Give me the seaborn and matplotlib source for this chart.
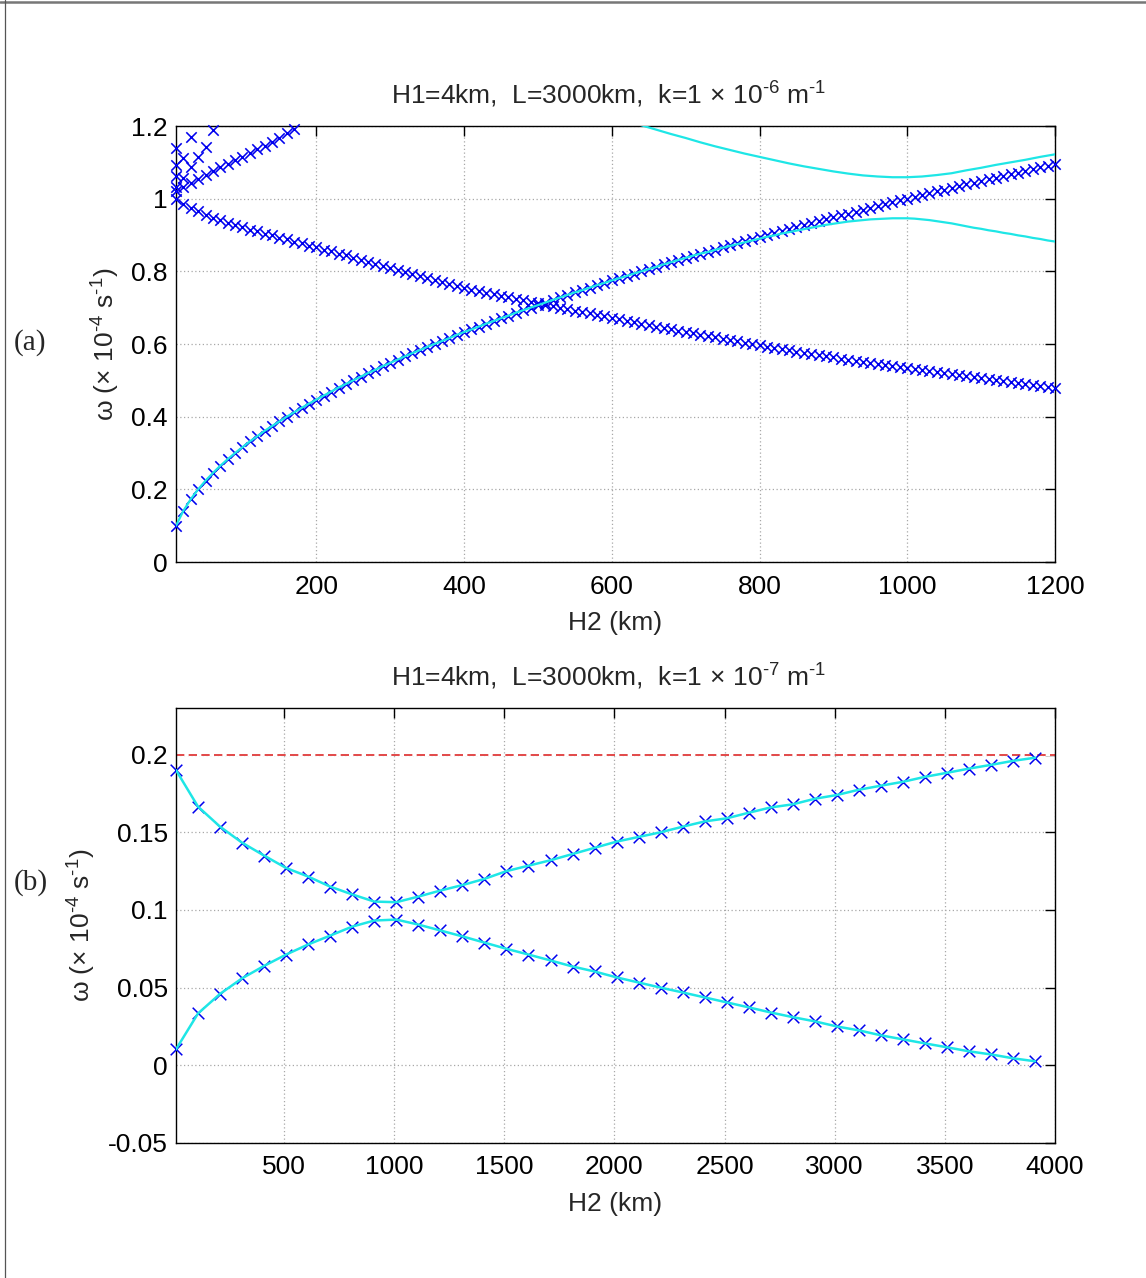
import matplotlib
matplotlib.use("Agg")
import matplotlib.pyplot as plt
import seaborn as sns
from matplotlib.lines import Line2D
from matplotlib.ticker import FuncFormatter

# ---------------------------------------------------------------- data
# (a) k = 1e-6 m^-1, H2 sampled every 10 km
h2_top = list(range(10, 1201, 10))

rising_w = [
    0.100, 0.141, 0.173, 0.200, 0.224, 0.245, 0.265, 0.283, 0.300, 0.316,
    0.332, 0.346, 0.361, 0.374, 0.387, 0.400, 0.412, 0.424, 0.436, 0.447,
    0.458, 0.469, 0.480, 0.490, 0.500, 0.510, 0.520, 0.529, 0.539, 0.548,
    0.557, 0.566, 0.575, 0.583, 0.592, 0.600, 0.608, 0.616, 0.625, 0.633,
    0.640, 0.648, 0.656, 0.663, 0.671, 0.678, 0.686, 0.693, 0.700, 0.707,
    0.714, 0.721, 0.728, 0.735, 0.742, 0.748, 0.755, 0.762, 0.768, 0.775,
    0.781, 0.787, 0.794, 0.800, 0.806, 0.812, 0.819, 0.825, 0.831, 0.837,
    0.843, 0.849, 0.854, 0.860, 0.866, 0.872, 0.878, 0.883, 0.889, 0.894,
    0.900, 0.906, 0.911, 0.917, 0.922, 0.927, 0.933, 0.938, 0.943, 0.949,
    0.954, 0.959, 0.964, 0.970, 0.975, 0.980, 0.985, 0.990, 0.995, 1.000,
    1.005, 1.010, 1.015, 1.020, 1.025, 1.030, 1.034, 1.039, 1.044, 1.049,
    1.054, 1.058, 1.063, 1.068, 1.072, 1.077, 1.082, 1.086, 1.091, 1.095,
]

falling_w = [
    1.000, 0.986, 0.975, 0.965, 0.956, 0.948, 0.941, 0.934, 0.927, 0.921,
    0.915, 0.910, 0.904, 0.899, 0.893, 0.888, 0.882, 0.877, 0.871, 0.866,
    0.860, 0.855, 0.849, 0.844, 0.838, 0.832, 0.827, 0.821, 0.816, 0.810,
    0.804, 0.799, 0.793, 0.788, 0.782, 0.777, 0.771, 0.766, 0.760, 0.755,
    0.750, 0.746, 0.741, 0.737, 0.732, 0.728, 0.724, 0.720, 0.716, 0.712,
    0.708, 0.704, 0.700, 0.696, 0.692, 0.688, 0.684, 0.680, 0.676, 0.672,
    0.668, 0.664, 0.660, 0.656, 0.652, 0.648, 0.644, 0.640, 0.637, 0.633,
    0.629, 0.625, 0.622, 0.618, 0.614, 0.611, 0.607, 0.603, 0.600, 0.596,
    0.593, 0.589, 0.586, 0.583, 0.579, 0.576, 0.573, 0.569, 0.566, 0.563,
    0.560, 0.557, 0.554, 0.551, 0.548, 0.546, 0.543, 0.540, 0.537, 0.534,
    0.531, 0.528, 0.526, 0.523, 0.520, 0.517, 0.514, 0.512, 0.509, 0.506,
    0.503, 0.500, 0.498, 0.495, 0.492, 0.489, 0.486, 0.484, 0.481, 0.478,
]

upper_h2 = list(range(10, 171, 10))
upper_w = [1.022, 1.033, 1.044, 1.055, 1.066, 1.076, 1.086, 1.096, 1.106,
           1.116, 1.126, 1.136, 1.146, 1.157, 1.168, 1.180, 1.193]

# higher modes near the shallow end
modes_h2 = [10, 10, 10, 10, 20, 20, 30, 30, 40, 50, 60]
modes_w = [1.033, 1.062, 1.093, 1.139, 1.056, 1.113, 1.086, 1.171, 1.116,
           1.143, 1.189]

# continuous solutions (a)
lo_tail_h2 = list(range(730, 1201, 10))
lo_tail_w = [
    0.853, 0.859, 0.865, 0.870, 0.875, 0.880, 0.885, 0.890, 0.895, 0.899,
    0.904, 0.908, 0.912, 0.916, 0.920, 0.924, 0.928, 0.931, 0.934, 0.937,
    0.939, 0.941, 0.943, 0.944, 0.945, 0.946, 0.946, 0.946, 0.945, 0.943,
    0.941, 0.938, 0.935, 0.932, 0.928, 0.924, 0.920, 0.917, 0.913, 0.910,
    0.906, 0.903, 0.899, 0.896, 0.892, 0.889, 0.885, 0.882,
]
curve_lo_h2 = h2_top[:72] + lo_tail_h2
curve_lo_w = rising_w[:72] + lo_tail_w

curve_hi_h2 = list(range(620, 1201, 20))
curve_hi_w = [
    1.215, 1.202, 1.190, 1.178, 1.167, 1.155, 1.144, 1.134, 1.124, 1.115,
    1.106, 1.097, 1.089, 1.082, 1.075, 1.069, 1.064, 1.061, 1.059, 1.059,
    1.061, 1.065, 1.070, 1.078, 1.085, 1.093, 1.100, 1.107, 1.115, 1.122,
]

# (b) k = 1e-7 m^-1, H2 sampled every 100 km
h2_bot = list(range(10, 3911, 100))
upper_b = [
    0.190, 0.1665, 0.1536, 0.1433, 0.135, 0.127, 0.1215, 0.115, 0.110, 0.1054,
    0.105, 0.1086, 0.1125, 0.116, 0.120, 0.125, 0.1285, 0.132, 0.136, 0.140,
    0.144, 0.147, 0.150, 0.1536, 0.157, 0.159, 0.1626, 0.166, 0.168, 0.1716,
    0.174, 0.1774, 0.180, 0.1825, 0.1857, 0.1883, 0.191, 0.1934, 0.196, 0.198,
]
lower_b = [
    0.0103, 0.0334, 0.046, 0.056, 0.064, 0.0713, 0.0778, 0.0835, 0.0893, 0.0932,
    0.0938, 0.0906, 0.0868, 0.083, 0.079, 0.075, 0.0713, 0.0675, 0.0636, 0.0604,
    0.0566, 0.0533, 0.050, 0.0469, 0.0437, 0.0405, 0.0373, 0.034, 0.031, 0.0283,
    0.025, 0.0225, 0.0193, 0.0167, 0.0141, 0.0116, 0.009, 0.007, 0.0045, 0.0026,
]
f_line = 0.2

# ---------------------------------------------------------------- style
sns.set_theme(style="white")
plt.rcParams['font.family'] = ['Liberation Sans', 'DejaVu Sans']
plt.rcParams['mathtext.fontset'] = 'custom'
plt.rcParams['mathtext.rm'] = 'Liberation Sans'
plt.rcParams['mathtext.it'] = 'Liberation Sans:italic'
plt.rcParams['mathtext.bf'] = 'Liberation Sans:bold'

FS = 19
CYAN = '#1ee6e6'
BLUE = '#0000ee'
HY = '\u2010'  # short hyphen used in exponents
fmt = FuncFormatter(lambda v, p: f"{v:g}")

W, H = 1146, 1278
fig = plt.figure(figsize=(W / 100, H / 100), dpi=100)
fig.patch.set_facecolor('white')

ax1 = fig.add_axes([176 / W, 1 - 562 / H, 879 / W, 436 / H])
ax2 = fig.add_axes([176 / W, 1 - 1143 / H, 879 / W, 435 / H])


def style_axes(ax):
    ax.set_facecolor('white')
    for s in ax.spines.values():
        s.set_visible(True)
        s.set_color('black')
        s.set_linewidth(1.0)
    ax.grid(True, linestyle=(0, (1, 2)), color='#a8a8a8', linewidth=0.9)
    ax.tick_params(direction='in', length=7, width=1, top=True, right=True,
                   labelsize=FS, colors='black', pad=6)
    ax.tick_params(axis='x', pad=9)
    ax.xaxis.set_major_formatter(fmt)
    ax.yaxis.set_major_formatter(fmt)
    ax.set_axisbelow(True)


def title_text(exp):
    return (r"H1=4km,  L=3000km,  k=1$\,\times\,$10$^{" + HY + exp + r"}$ m$^{"
            + HY + r"1}$")


# ---------------------------------------------------------------- (a)
style_axes(ax1)
for yy, xx in ((rising_w, h2_top), (falling_w, h2_top),
               (upper_w, upper_h2), (modes_w, modes_h2)):
    sns.scatterplot(x=xx, y=yy, ax=ax1, marker='x', color=BLUE, s=56,
                    linewidth=1.15, zorder=3, clip_on=False)
sns.lineplot(x=curve_lo_h2, y=curve_lo_w, ax=ax1, color=CYAN, linewidth=1.6,
             sort=False, estimator=None, zorder=4)
sns.lineplot(x=curve_hi_h2, y=curve_hi_w, ax=ax1, color=CYAN, linewidth=1.6,
             sort=False, estimator=None, zorder=4)
ax1.set_xlim(10, 1200)
ax1.set_ylim(0, 1.2)
ax1.set_xticks([200, 400, 600, 800, 1000, 1200])
ax1.set_yticks([0, 0.2, 0.4, 0.6, 0.8, 1.0, 1.2])
ax1.text(0.492, 1.0505, title_text("6"),
         transform=ax1.transAxes, ha='center', va='baseline', fontsize=FS)

# ---------------------------------------------------------------- (b)
style_axes(ax2)
ax2.axhline(f_line, color='white', linewidth=1.6, zorder=1.5)
ax2.axhline(f_line, color='#dd2a2a', linewidth=1.2, linestyle=(0, (5, 2.6)),
            zorder=2)
for yy in (upper_b, lower_b):
    sns.scatterplot(x=h2_bot, y=yy, ax=ax2, marker='x', color=BLUE, s=70,
                    linewidth=1.1, zorder=3, clip_on=False)
for yy in (upper_b, lower_b):
    sns.lineplot(x=h2_bot, y=yy, ax=ax2, color=CYAN, linewidth=1.8,
                 sort=False, estimator=None, zorder=4)
ax2.set_xlim(10, 4000)
ax2.set_ylim(-0.05, 0.23)
ax2.set_xticks([500, 1000, 1500, 2000, 2500, 3000, 3500, 4000])
ax2.set_yticks([-0.05, 0, 0.05, 0.1, 0.15, 0.2])
ax2.text(0.492, 1.0506, title_text("7"),
         transform=ax2.transAxes, ha='center', va='baseline', fontsize=FS)

# ---------------------------------------------------------------- labels
ylab = "\u03c9 ($\\times$ 10$^{" + HY + "4}$ s$^{" + HY + "1}$)"
for ax, ylx in ((ax1, -0.0614), (ax2, -0.0887)):
    ax.set_xlabel("H2 (km)", fontsize=FS)
    ax.xaxis.set_label_coords(0.5, -0.113)
    ax.set_ylabel(ylab, fontsize=FS)
    ax.yaxis.set_label_coords(ylx, 0.5)

for lab, yp in (("(a)", 343), ("(b)", 883)):
    fig.text(14 / W, 1 - yp / H, lab, ha='left', va='center', fontsize=21,
             family=['Liberation Serif', 'DejaVu Serif'])

# page frame edges
fig.add_artist(Line2D([0, 1], [1 - 2 / H, 1 - 2 / H], transform=fig.transFigure,
                      color='#777777', linewidth=1.8))
fig.add_artist(Line2D([5 / W, 5 / W], [0, 1], transform=fig.transFigure,
                      color='#555555', linewidth=0.9))

fig.savefig("out.png", dpi=100, facecolor='white')
